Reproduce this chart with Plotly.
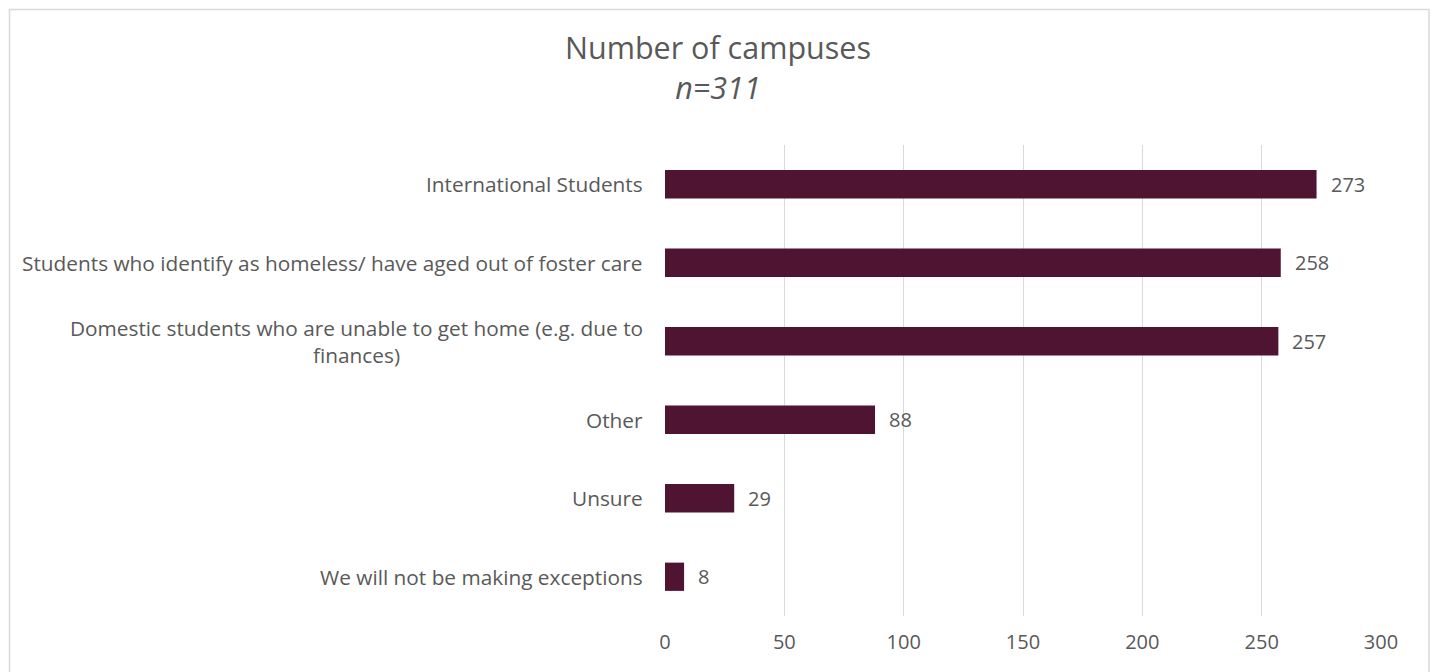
import plotly.graph_objects as go

categories = [
    "International Students",
    "Students who identify as homeless/ have aged out of foster care",
    "Domestic students who are unable to get home (e.g. due to<br>finances)",
    "Other",
    "Unsure",
    "We will not be making exceptions",
]
values = [273, 258, 257, 88, 29, 8]
x_ticks = [0, 50, 100, 150, 200, 250, 300]

BAR = "#4F1432"
TXT = "#595959"
GRID = "#D9D9D9"
FONT = "Open Sans"

OFF = 8  # page body margin
W, H = 1439 - OFF, 672 - OFF
L, T = 665 - OFF, 145 - OFF
R = W - (1381 - OFF)
B = H - (616 - OFF)
pw, ph = W - L - R, H - T - B

fig = go.Figure(go.Bar(
    x=values, y=list(range(len(categories))), orientation="h",
    marker=dict(color=BAR, line=dict(width=0)),
    hoverinfo="x",
))

ann = []
for i, (c, v) in enumerate(zip(categories, values)):
    ann.append(dict(x=v, y=i, xref="x", yref="y", text=str(v), showarrow=False,
                    xanchor="left", xshift=12, font=dict(family=FONT, size=20, color=TXT)))
    ann.append(dict(x=-20 / pw, y=i, xref="paper", yref="y", text=c, showarrow=False,
                    xanchor="right", align="center", font=dict(family=FONT, size=20.8, color=TXT)))

def py(p):
    return (616 - p) / ph

def px(p):
    return (p - 665) / pw

ann.append(dict(x=px(718), y=py(67), xref="paper", yref="paper",
                text="Number of campuses<br><i>n=311</i>", showarrow=False,
                xanchor="center", yanchor="middle", align="center",
                font=dict(family=FONT, size=30.5, color=TXT)))

fig.update_layout(
    width=W, height=H,
    margin=dict(l=L, r=R, t=T, b=B),
    paper_bgcolor="white", plot_bgcolor="white",
    showlegend=False,
    bargap=0.64,
    annotations=ann,
    font=dict(family=FONT, color=TXT),
    shapes=[dict(type="rect", xref="paper", yref="paper",
                 x0=px(9.5), x1=px(1429), y0=py(700), y1=py(9.5),
                 line=dict(color=GRID, width=1.5), fillcolor="rgba(0,0,0,0)", layer="below")],
)
fig.update_xaxes(range=[0, 300], tickvals=x_ticks, showgrid=True, gridcolor=GRID, gridwidth=1,
                 zeroline=False, showline=False, ticks="", ticklabelstandoff=12,
                 tickfont=dict(family=FONT, size=20, color=TXT), fixedrange=True)
fig.update_yaxes(range=[len(categories) - 0.5, -0.5], showticklabels=False, showgrid=False,
                 zeroline=False, showline=False, ticks="", fixedrange=True)

fig.write_html("out.html")
